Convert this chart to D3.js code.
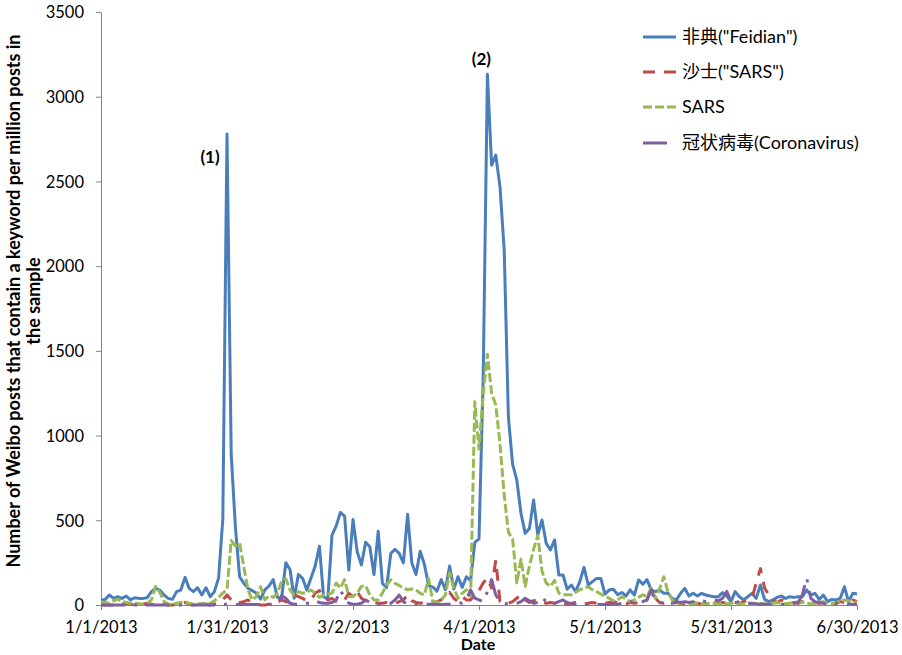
<!DOCTYPE html>
<html>
<head>
<meta charset="utf-8">
<script src="https://cdn.jsdelivr.net/npm/d3@7"></script>
<style>
  body { margin: 0; background: #fff; }
  svg { font-family: Lato, "Noto Sans CJK SC", sans-serif; }
  .axis-label { font-size: 16.5px; fill: #000; }
  .legend-label { font-size: 18px; fill: #000; }
  .title { font-size: 17px; font-weight: bold; fill: #000; }
  .xtitle { font-size: 16px; font-weight: bold; fill: #000; }
  .ytitle { font-size: 18px; font-weight: bold; fill: #000; }
</style>
</head>
<body>
<div id="chart"></div>
<script>
// daily values, 1/1/2013 .. 6/30/2013 (posts per million)
const feidian = [30,33,59,39,49,39,53,30,43,39,
  39,43,79,98,88,59,39,33,79,88,
  163,98,79,102,59,102,49,79,160,505,
  2780,890,460,167,128,98,85,69,35,89,
  112,150,45,40,250,210,40,180,157,88,
  160,230,347,49,35,413,467,546,525,206,
  504,315,236,370,344,180,435,128,104,305,
  328,305,248,535,250,180,317,240,115,106,
  82,150,91,230,94,167,104,167,143,370,
  390,1350,3133,2596,2655,2468,2095,1110,830,738,
  541,423,452,620,413,502,364,325,384,177,
  177,93,118,79,138,222,118,138,157,157,
  64,89,93,61,74,53,89,59,148,123,
  150,89,79,89,69,69,39,30,69,98,
  53,69,53,69,59,53,49,49,73,53,
  20,79,49,30,49,69,39,118,33,20,
  30,45,53,39,49,45,49,49,89,59,
  69,33,59,20,33,30,39,108,20,69,
  65]

const shashi = [0,0,0,0,5,5,10,5,0,0,
  5,10,5,0,0,5,0,0,5,10,
  15,5,0,5,10,5,0,5,10,30,
  60,30,10,15,20,30,10,5,0,0,
  5,10,15,30,20,15,59,49,39,25,
  30,69,85,60,30,39,20,15,30,69,
  49,79,40,25,20,15,10,10,15,10,
  10,20,30,59,25,15,10,15,10,15,
  20,30,59,75,40,20,49,30,30,60,
  85,130,160,100,265,20,10,10,20,40,
  59,30,15,25,30,20,10,15,10,20,
  10,5,10,15,10,5,10,15,10,5,
  10,15,20,15,10,5,15,10,15,10,
  30,90,40,15,10,15,10,15,10,5,
  10,15,10,5,10,10,15,10,15,10,
  20,15,10,20,25,40,130,215,100,60,
  25,15,30,20,10,15,10,20,15,10,
  15,10,15,10,5,10,20,15,10,30,
  20]

const sars = [20,15,10,25,35,20,15,10,10,8,
  5,10,30,110,75,20,5,5,10,15,
  20,10,5,5,10,5,10,25,45,70,
  90,380,350,365,226,89,30,50,108,30,
  55,45,69,140,155,89,59,79,69,75,
  89,69,45,59,65,69,130,100,150,50,
  50,70,110,115,60,30,30,70,120,148,
  128,115,100,90,95,89,69,60,157,20,
  15,30,60,190,100,40,69,90,50,1200,
  920,1250,1480,1250,1180,950,650,430,390,130,
  270,110,230,330,410,200,130,110,145,70,
  60,60,60,75,89,100,108,90,79,65,
  50,40,25,30,49,35,20,30,45,60,
  50,100,40,95,167,75,30,15,10,15,
  10,8,10,5,10,8,10,5,10,8,
  10,15,10,5,10,8,5,10,8,5,
  10,15,10,8,10,15,20,15,10,8,
  10,15,20,10,8,15,20,30,25,20,
  15]

const coronavirus = [0,0,0,0,0,0,0,0,0,0,
  0,0,0,0,0,0,0,0,0,0,
  0,0,0,0,0,0,0,0,0,5,
  5,3,3,3,3,3,3,3,3,3,
  3,5,10,55,40,10,5,5,5,10,
  10,25,15,10,10,15,30,89,40,10,
  5,5,10,30,15,5,5,5,5,10,
  30,59,20,5,5,3,3,3,5,5,
  3,3,5,5,10,15,10,30,89,40,
  30,20,79,150,59,20,10,5,5,10,
  20,40,25,10,15,45,20,10,10,20,
  30,15,5,5,3,3,3,3,3,3,
  3,3,5,5,10,15,20,10,15,20,
  30,90,20,15,10,15,10,20,15,20,
  15,20,25,25,20,25,30,25,40,80,
  20,15,20,15,10,10,8,5,5,5,
  5,5,5,5,5,10,15,60,160,40,
  20,15,10,5,10,10,10,5,5,5,
  5]

const seriesNames = ['非典("Feidian")', '沙士("SARS")', 'SARS', '冠状病毒(Coronavirus)']
const xTickLabels = ['1/1/2013', '1/31/2013', '3/2/2013', '4/1/2013', '5/1/2013', '5/31/2013', '6/30/2013']
const yTicks = [0, 500, 1000, 1500, 2000, 2500, 3000, 3500]
const peakLabels = ['(1)', '(2)']

const W = 902, H = 655
const parse = d3.timeParse('%m/%d/%Y')
const start = parse('1/1/2013')
const dates = feidian.map((v, i) => d3.timeDay.offset(start, i))

const x = d3.scaleTime()
  .domain([start, parse('6/30/2013')])
  .range([101, 857])
const y = d3.scaleLinear()
  .domain([0, 3500])
  .range([605, 12])

const svg = d3.select('#chart').append('svg')
  .attr('width', W)
  .attr('height', H)

// y axis
const yAxis = svg.append('g')
  .attr('transform', 'translate(101,0)')
  .call(d3.axisLeft(y).tickValues(yTicks).tickSize(5).tickFormat(d3.format('d')))
yAxis.attr('font-family', null).attr('font-size', null)
yAxis.select('.domain').attr('stroke', '#868686').attr('stroke-width', 1)
yAxis.selectAll('.tick line').attr('stroke', '#868686')
yAxis.selectAll('.tick text')
  .attr('class', 'axis-label')
  .attr('x', -17)
  .attr('dy', '0.35em')

// x axis
const xTickDates = xTickLabels.map(parse)
const xAxis = svg.append('g')
  .attr('transform', 'translate(0,605)')
  .call(d3.axisBottom(x).tickValues(xTickDates).tickSize(5)
    .tickFormat((d, i) => xTickLabels[i]))
xAxis.attr('font-family', null).attr('font-size', null)
xAxis.select('.domain').attr('stroke', '#868686').attr('stroke-width', 1)
xAxis.selectAll('.tick line').attr('stroke', '#868686')
xAxis.selectAll('.tick text')
  .attr('class', 'axis-label')
  .attr('y', 16)
  .attr('dy', '0.71em')

// series, later ones drawn on top like the original
const colors = ['#4a7ebb', '#be4b48', '#98b954', '#7d60a0']
const dashes = [null, '12,9', '9,3', '24,9,3,9']
const allSeries = [feidian, shashi, sars, coronavirus]

const line = d3.line()
  .x((d, i) => x(dates[i]))
  .y(d => y(d))

allSeries.forEach((s, k) => {
  svg.append('path')
    .datum(s)
    .attr('fill', 'none')
    .attr('stroke', colors[k])
    .attr('stroke-width', 3)
    .attr('stroke-linejoin', 'round')
    .attr('stroke-dasharray', dashes[k])
    .attr('d', line)
})

// peak labels (1) and (2)
const peak1 = d3.maxIndex(feidian.slice(0, 60))
const peak2 = d3.maxIndex(feidian)
svg.append('text')
  .attr('class', 'title')
  .attr('x', x(dates[peak1]) - 17)
  .attr('y', y(feidian[peak1]) + 29)
  .attr('text-anchor', 'middle')
  .text(peakLabels[0])
svg.append('text')
  .attr('class', 'title')
  .attr('x', x(dates[peak2]) - 6)
  .attr('y', y(feidian[peak2]) - 9)
  .attr('text-anchor', 'middle')
  .text(peakLabels[1])

// axis titles
svg.append('text')
  .attr('class', 'xtitle')
  .attr('x', 478)
  .attr('y', 650)
  .attr('text-anchor', 'middle')
  .text('Date')

const yt = svg.append('g').attr('transform', 'translate(0,301) rotate(-90)')
yt.append('text')
  .attr('class', 'ytitle')
  .attr('x', 0).attr('y', 20)
  .attr('text-anchor', 'middle')
  .text('Number of Weibo posts that contain a keyword per million posts in')
yt.append('text')
  .attr('class', 'ytitle')
  .attr('x', 0).attr('y', 40)
  .attr('text-anchor', 'middle')
  .text('the sample')

// legend
const legend = svg.append('g').attr('transform', 'translate(643,0)')
const rowY = [37, 72, 107, 143]
seriesNames.forEach((name, k) => {
  legend.append('line')
    .attr('x1', 0).attr('x2', 33)
    .attr('y1', rowY[k]).attr('y2', rowY[k])
    .attr('stroke', colors[k])
    .attr('stroke-width', 3)
    .attr('stroke-dasharray', dashes[k])
  legend.append('text')
    .attr('class', 'legend-label')
    .attr('x', 39)
    .attr('y', rowY[k])
    .attr('dy', '0.35em')
    .text(name)
})
</script>
</body>
</html>
